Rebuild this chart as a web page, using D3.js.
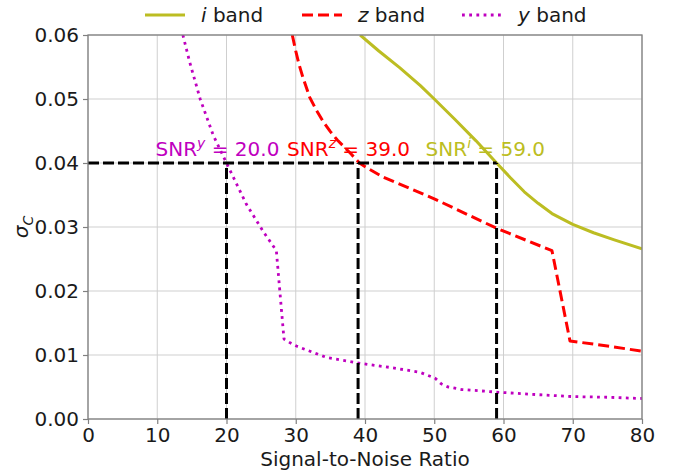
<!DOCTYPE html>
<html>
<head>
<meta charset="utf-8">
<script src="https://cdn.jsdelivr.net/npm/d3@7"></script>
<style>
  body { margin: 0; background: #fff; }
  text { font-family: "DejaVu Sans", sans-serif; }
</style>
</head>
<body>
<svg id="chart" width="680" height="472"></svg>
<script>
// Axis ticks
const xTicks = [0, 10, 20, 30, 40, 50, 60, 70, 80];
const yTicks = [0.00, 0.01, 0.02, 0.03, 0.04, 0.05, 0.06];

// i band: sigma_C versus SNR
const iSnr   = [39.3, 42, 45, 48, 50, 53, 56, 59, 61, 63, 65, 67, 70, 73, 76, 80];
const iSigma = [0.0600, 0.0575, 0.0549, 0.0521, 0.0500, 0.0468, 0.0435, 0.0400, 0.0377, 0.0355, 0.0337, 0.0321, 0.0304, 0.0291, 0.0280, 0.0266];

// z band
const zSnr   = [29.5, 30.0, 30.5, 31.0, 32.0, 33.0, 34.0, 35.0, 36.0, 37.0, 38.0, 39.2, 40.5, 42.6, 50, 59, 67.0, 69.6, 75, 80];
const zSigma = [0.0600, 0.0575, 0.0553, 0.0535, 0.0503, 0.0482, 0.0464, 0.0449, 0.0436, 0.0425, 0.0414, 0.0400, 0.0391, 0.0378, 0.0344, 0.0298, 0.0263, 0.0122, 0.0114, 0.0106];

// y band
const ySnr   = [13.7, 14.7, 16.2, 18.1, 20.0, 22.9, 25.3, 27.2, 27.7, 28.3, 29.2, 30.1, 32.5, 34.5, 39.3, 44, 47.9, 50.1, 51.0, 52.0, 54, 56.6, 59, 65, 70, 75, 80];
const ySigma = [0.0600, 0.0557, 0.0500, 0.0443, 0.0400, 0.0335, 0.0293, 0.0263, 0.0200, 0.0125, 0.0119, 0.0114, 0.0104, 0.0096, 0.0087, 0.0080, 0.0073, 0.0064, 0.0055, 0.0050, 0.0046, 0.0044, 0.0042, 0.0038, 0.0035, 0.0034, 0.0032];

// Required SNR per band at the target sigma
const targetSigma = 0.04;
const snrBands  = ["y", "z", "i"];
const snrValues = [20.0, 39.0, 59.0];

const bandNames  = ["i", "z", "y"];
const bandColors = { i: "#bcbd22", z: "#ff0000", y: "#bf00bf" };

const svg = d3.select("#chart");
const m = { left: 88, right: 642, top: 35, bottom: 419 };

const x = d3.scaleLinear().domain([0, 80]).range([m.left, m.right]);
const y = d3.scaleLinear().domain([0, 0.06]).range([m.bottom, m.top]);

svg.append("defs").append("clipPath").attr("id", "plot-clip")
  .append("rect")
  .attr("x", m.left).attr("y", m.top)
  .attr("width", m.right - m.left).attr("height", m.bottom - m.top);

// Grid
const grid = svg.append("g").attr("stroke", "#cfcfcf").attr("stroke-width", 1);
grid.selectAll("line.gx").data(xTicks).join("line")
  .attr("x1", d => x(d)).attr("x2", d => x(d))
  .attr("y1", m.top).attr("y2", m.bottom);
grid.selectAll("line.gy").data(yTicks).join("line")
  .attr("x1", m.left).attr("x2", m.right)
  .attr("y1", d => y(d)).attr("y2", d => y(d));

// SNR annotations
const ann = svg.append("g");
snrBands.forEach((b, k) => {
  const t = ann.append("text")
    .attr("x", x(snrValues[k]) - 71)
    .attr("y", y(targetSigma) - 7)
    .attr("font-size", 20)
    .attr("fill", bandColors[b]);
  t.append("tspan").text("SNR");
  t.append("tspan").attr("dy", -8).attr("font-size", 14).attr("font-style", "italic").text(b);
  t.append("tspan").attr("dy", 8).text(" = " + snrValues[k].toFixed(1));
});

// Curves
const line = d3.line().x(d => x(d[0])).y(d => y(d[1]));
const curves = svg.append("g").attr("clip-path", "url(#plot-clip)").attr("fill", "none");
const series = {
  i: d3.zip(iSnr, iSigma),
  z: d3.zip(zSnr, zSigma),
  y: d3.zip(ySnr, ySigma)
};
const dashes = { i: null, z: "11,5", y: "2.8,4.4" };
const widths = { i: 3, z: 3, y: 2.8 };
["i", "z", "y"].forEach(b => {
  curves.append("path")
    .datum(series[b])
    .attr("d", line)
    .attr("stroke", bandColors[b])
    .attr("stroke-width", widths[b])
    .attr("stroke-dasharray", dashes[b])
    .attr("stroke-linejoin", "round");
});

// Threshold guides
const guides = svg.append("g").attr("stroke", "#000").attr("stroke-width", 3)
  .attr("stroke-dasharray", "11,4").attr("fill", "none");
guides.append("line")
  .attr("x1", x(0)).attr("x2", x(d3.max(snrValues)))
  .attr("y1", y(targetSigma)).attr("y2", y(targetSigma));
guides.selectAll("line.v").data(snrValues).join("line")
  .attr("x1", d => x(d)).attr("x2", d => x(d))
  .attr("y1", y(0)).attr("y2", y(targetSigma));

// Axes
const axisColor = "#808080";
const xAxis = svg.append("g").attr("transform", `translate(0,${m.bottom})`)
  .call(d3.axisBottom(x).tickValues(xTicks).tickFormat(d3.format("d")).tickSize(5).tickPadding(4));
const yAxis = svg.append("g").attr("transform", `translate(${m.left},0)`)
  .call(d3.axisLeft(y).tickValues(yTicks).tickFormat(d3.format(".2f")).tickSize(5).tickPadding(4));
[xAxis, yAxis].forEach(a => {
  a.select(".domain").remove();
  a.selectAll(".tick line").attr("stroke", axisColor).attr("stroke-width", 1.2);
  a.selectAll(".tick text").attr("font-size", 20).attr("fill", "#1a1a1a")
    .attr("font-family", "DejaVu Sans, sans-serif");
});

// Frame
svg.append("rect")
  .attr("x", m.left).attr("y", m.top)
  .attr("width", m.right - m.left).attr("height", m.bottom - m.top)
  .attr("fill", "none").attr("stroke", axisColor).attr("stroke-width", 1.3);

// Axis titles
svg.append("text")
  .attr("x", (m.left + m.right) / 2).attr("y", 466)
  .attr("text-anchor", "middle").attr("font-size", 20).attr("fill", "#1a1a1a")
  .text("Signal-to-Noise Ratio");
const yl = svg.append("text")
  .attr("transform", `translate(28,${(m.top + m.bottom) / 2}) rotate(-90)`)
  .attr("text-anchor", "middle").attr("font-size", 20).attr("fill", "#1a1a1a");
yl.append("tspan").attr("font-style", "italic").text("σ");
yl.append("tspan").attr("font-style", "italic").attr("font-size", 14).attr("dy", 5).text("C");

// Legend
const legendX = { i: 145, z: 302, y: 462 };
const leg = svg.append("g");
bandNames.forEach(b => {
  leg.append("line")
    .attr("x1", legendX[b]).attr("x2", legendX[b] + 40)
    .attr("y1", 15).attr("y2", 15)
    .attr("stroke", bandColors[b]).attr("stroke-width", widths[b])
    .attr("stroke-dasharray", dashes[b]);
  const t = leg.append("text")
    .attr("x", legendX[b] + 56).attr("y", 22)
    .attr("font-size", 20).attr("fill", "#1a1a1a");
  t.append("tspan").attr("font-style", "italic").text(b);
  t.append("tspan").text(" band");
});
</script>
</body>
</html>
